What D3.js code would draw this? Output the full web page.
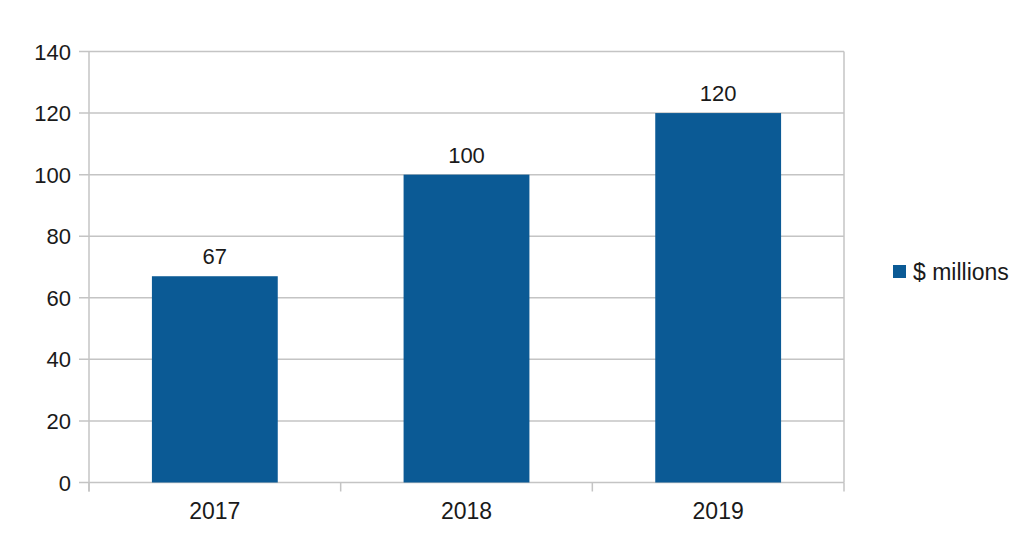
<!DOCTYPE html>
<html>
<head>
<meta charset="utf-8">
<script src="https://cdn.jsdelivr.net/npm/d3@7"></script>
<style>
  body { margin: 0; background: #fff; }
  text { font-family: "Liberation Sans", Arial, sans-serif; fill: #1a1a1a; }
</style>
</head>
<body>
<svg id="chart" width="1024" height="554"></svg>
<script>
// data
var years = ["2017", "2018", "2019"];
var values = [67, 100, 120];
var yTicks = [0, 20, 40, 60, 80, 100, 120, 140];
var seriesName = "$ millions";

var svg = d3.select("#chart");
var plotLeft = 89, plotRight = 844, plotTop = 51.5, plotBottom = 482.5;
var barColor = "#0b5a95", gridColor = "#c4c4c4";

var x = d3.scaleBand().domain(years).range([plotLeft, plotRight]).paddingInner(0.5).paddingOuter(0.25);
var y = d3.scaleLinear().domain([0, 140]).range([plotBottom, plotTop]);

// horizontal gridlines + left tick marks
svg.append("g").selectAll("line")
  .data(yTicks)
  .enter().append("line")
  .attr("x1", plotLeft - 10).attr("x2", plotRight)
  .attr("y1", function (d) { return y(d); })
  .attr("y2", function (d) { return y(d); })
  .attr("stroke", gridColor).attr("stroke-width", 1.5);

// y axis line
svg.append("line")
  .attr("x1", plotLeft).attr("x2", plotLeft)
  .attr("y1", plotTop).attr("y2", plotBottom + 9)
  .attr("stroke", gridColor).attr("stroke-width", 1.5);

// right border
svg.append("line")
  .attr("x1", plotRight).attr("x2", plotRight)
  .attr("y1", plotTop).attr("y2", plotBottom)
  .attr("stroke", gridColor).attr("stroke-width", 1.5);

// category separator ticks below the axis
var sepX = [plotLeft].concat(years.map(function (d) { return x(d) + x.step() * 0.75; }));
svg.append("g").selectAll("line")
  .data(sepX)
  .enter().append("line")
  .attr("x1", function (d) { return d; }).attr("x2", function (d) { return d; })
  .attr("y1", plotBottom).attr("y2", plotBottom + 9)
  .attr("stroke", gridColor).attr("stroke-width", 1.5);

// y tick labels
svg.append("g").selectAll("text")
  .data(yTicks)
  .enter().append("text")
  .attr("x", 71)
  .attr("y", function (d) { return y(d) + 8; })
  .attr("text-anchor", "end")
  .style("font-size", "22px")
  .text(function (d) { return d; });

// bars
svg.append("g").selectAll("rect")
  .data(values)
  .enter().append("rect")
  .attr("x", function (d, i) { return x(years[i]); })
  .attr("width", x.bandwidth())
  .attr("y", function (d) { return y(d); })
  .attr("height", function (d) { return plotBottom - y(d); })
  .attr("fill", barColor);

// value labels
svg.append("g").selectAll("text")
  .data(values)
  .enter().append("text")
  .attr("x", function (d, i) { return x(years[i]) + x.bandwidth() / 2; })
  .attr("y", function (d) { return y(d) - 12; })
  .attr("text-anchor", "middle")
  .style("font-size", "22px")
  .text(function (d) { return d; });

// x labels
svg.append("g").selectAll("text")
  .data(years)
  .enter().append("text")
  .attr("x", function (d) { return x(d) + x.bandwidth() / 2; })
  .attr("y", 519)
  .attr("text-anchor", "middle")
  .style("font-size", "23px")
  .text(function (d) { return d; });

// legend
svg.append("rect")
  .attr("x", 893).attr("y", 265).attr("width", 13).attr("height", 13)
  .attr("fill", barColor);
svg.append("text")
  .attr("x", 913).attr("y", 280)
  .style("font-size", "23px")
  .text(seriesName);
</script>
</body>
</html>
